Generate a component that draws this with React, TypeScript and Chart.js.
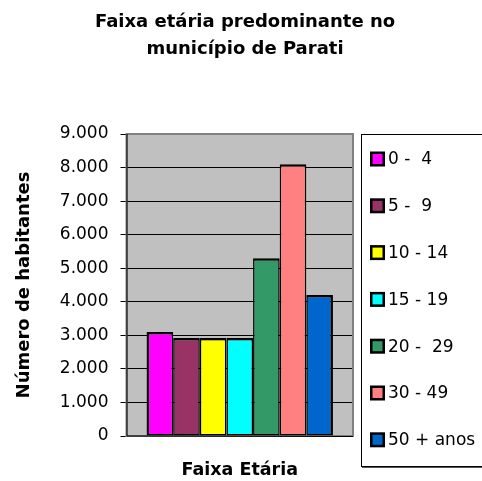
import React, { useEffect, useRef } from "react";
import { Chart, registerables } from "chart.js";

Chart.register(...registerables);

const categories: string[] = [""];
const seriesLabels: string[] = ["0 -  4", "5 -  9", "10 - 14", "15 - 19", "20 -  29", "30 - 49", "50 + anos"];
const seriesValues: number[] = [3100, 2920, 2920, 2920, 5300, 8100, 4200];
const seriesColors: string[] = ["#FF00FF", "#993366", "#FFFF00", "#00FFFF", "#339966", "#FF8080", "#0066CC"];
const titleLines: string[] = ["Faixa etária predominante no", "município de Parati"];
const xTitle = "Faixa Etária";
const yTitle = "Número de habitantes";
const yMin = 0;
const yMax = 9000;
const yStep = 1000;

const FONT = "'DejaVu Sans', Verdana, sans-serif";

const fmt = (v: number) => String(v).replace(/\B(?=(\d{3})+(?!\d))/g, ".");

const plotBgPlugin = {
  id: "plotBg",
  beforeDraw(chart: any) {
    const { ctx, chartArea: a } = chart;
    ctx.save();
    ctx.fillStyle = "#C0C0C0";
    ctx.fillRect(a.left, a.top, a.right - a.left, a.bottom - a.top);
    ctx.restore();
  },
  beforeDatasetsDraw(chart: any) {
    const { ctx, chartArea: a } = chart;
    ctx.save();
    ctx.strokeStyle = "#808080";
    ctx.lineWidth = 2;
    ctx.strokeRect(a.left, a.top, a.right - a.left, a.bottom - a.top);
    ctx.strokeStyle = "#000";
    ctx.lineWidth = 1;
    ctx.beginPath();
    ctx.moveTo(a.left + 0.5, a.top);
    ctx.lineTo(a.left + 0.5, a.bottom);
    ctx.lineTo(a.right, a.bottom + 0.5);
    ctx.stroke();
    ctx.restore();
  },
};

const boxLegendPlugin = {
  id: "boxLegend",
  afterDraw(chart: any) {
    const { ctx, chartArea: a } = chart;
    const boxLeft = a.right + 8;
    const boxTop = a.top;
    const boxBottom = 466;
    ctx.save();
    ctx.strokeStyle = "#000";
    ctx.lineWidth = 1;
    ctx.strokeRect(boxLeft + 0.5, boxTop + 0.5, 200, boxBottom - boxTop);
    ctx.strokeStyle = "#555";
    ctx.beginPath();
    ctx.moveTo(boxLeft + 1, boxBottom + 1.5);
    ctx.lineTo(chart.width, boxBottom + 1.5);
    ctx.stroke();
    const ds = chart.data.datasets;
    const first = 159;
    const step = 46.8;
    ctx.font = `17px ${FONT}`;
    ctx.textBaseline = "middle";
    ctx.textAlign = "left";
    ds.forEach((d: any, i: number) => {
      const cy = first + i * step;
      const sx = boxLeft + 9;
      ctx.fillStyle = "#000";
      ctx.fillRect(sx, cy - 7.5, 15, 15);
      ctx.fillStyle = d.backgroundColor;
      ctx.fillRect(sx + 2.5, cy - 5, 10, 10);
      ctx.fillStyle = "#000";
      ctx.fillText(d.label, sx + 18, cy + 1);
    });
    ctx.restore();
  },
};

export default function App() {
  const ref = useRef<HTMLCanvasElement | null>(null);
  useEffect(() => {
    if (!ref.current) return;
    const n = seriesLabels.length;
    const chart = new Chart(ref.current, {
      type: "bar",
      data: {
        labels: categories,
        datasets: seriesLabels.map((label, i) => ({
          label,
          data: [seriesValues[i]],
          backgroundColor: seriesColors[i],
          borderColor: "#000",
          borderWidth: {
            top: 2.5,
            bottom: 1.5,
            left: i === 0 ? 2.5 : 1.5,
            right: i === n - 1 ? 2.5 : 1.5,
          },
          borderSkipped: false,
          barPercentage: 1,
          categoryPercentage: 0.823,
          yAxisID: "y",
        })),
      },
      options: {
        responsive: false,
        animation: false,
        devicePixelRatio: 1,
        layout: { padding: { left: 8, right: 0, top: 0, bottom: 0 } },
        plugins: {
          legend: { display: false },
          tooltip: { enabled: false },
          title: {
            display: true,
            text: titleLines,
            color: "#000",
            font: { family: FONT, size: 18, weight: "bold", lineHeight: "27px" },
            padding: { top: 8.5, bottom: 71.5 },
          },
        },
        scales: {
          x: {
            grid: { display: false, drawTicks: false },
            border: { display: false },
            ticks: { display: false },
            title: {
              display: true,
              text: xTitle,
              color: "#000",
              font: { family: FONT, size: 17.5, weight: "bold", lineHeight: 1.2 },
              padding: { top: 23.5, bottom: 0.5 },
            },
          },
          y: {
            position: "left",
            min: yMin,
            max: yMax,
            ticks: {
              stepSize: yStep,
              color: "#000",
              font: { family: FONT, size: 17 },
              padding: 12,
              callback: (v: any) => fmt(Number(v)),
            },
            grid: { color: "#000", lineWidth: 1, drawTicks: true, tickLength: 6, tickColor: "#000" },
            border: { display: false },
            title: {
              display: true,
              text: yTitle,
              color: "#000",
              font: { family: FONT, size: 18, weight: "bold", lineHeight: 1.2 },
              padding: { top: 5.2, bottom: 13.5 },
            },
          },
          legendSpace: {
            type: "linear",
            position: "right",
            display: true,
            grid: { display: false, drawTicks: false },
            border: { display: false },
            ticks: { display: false },
            afterFit: (s: any) => {
              s.width = 129;
            },
          },
        },
      },
      plugins: [plotBgPlugin, boxLegendPlugin],
    });
    return () => chart.destroy();
  }, []);
  return (
    <div style={{ position: "fixed", left: 0, top: 0, width: 482, height: 481, background: "#fff" }}>
      <canvas ref={ref} width={482} height={481} style={{ width: 482, height: 481, display: "block" }} />
    </div>
  );
}
